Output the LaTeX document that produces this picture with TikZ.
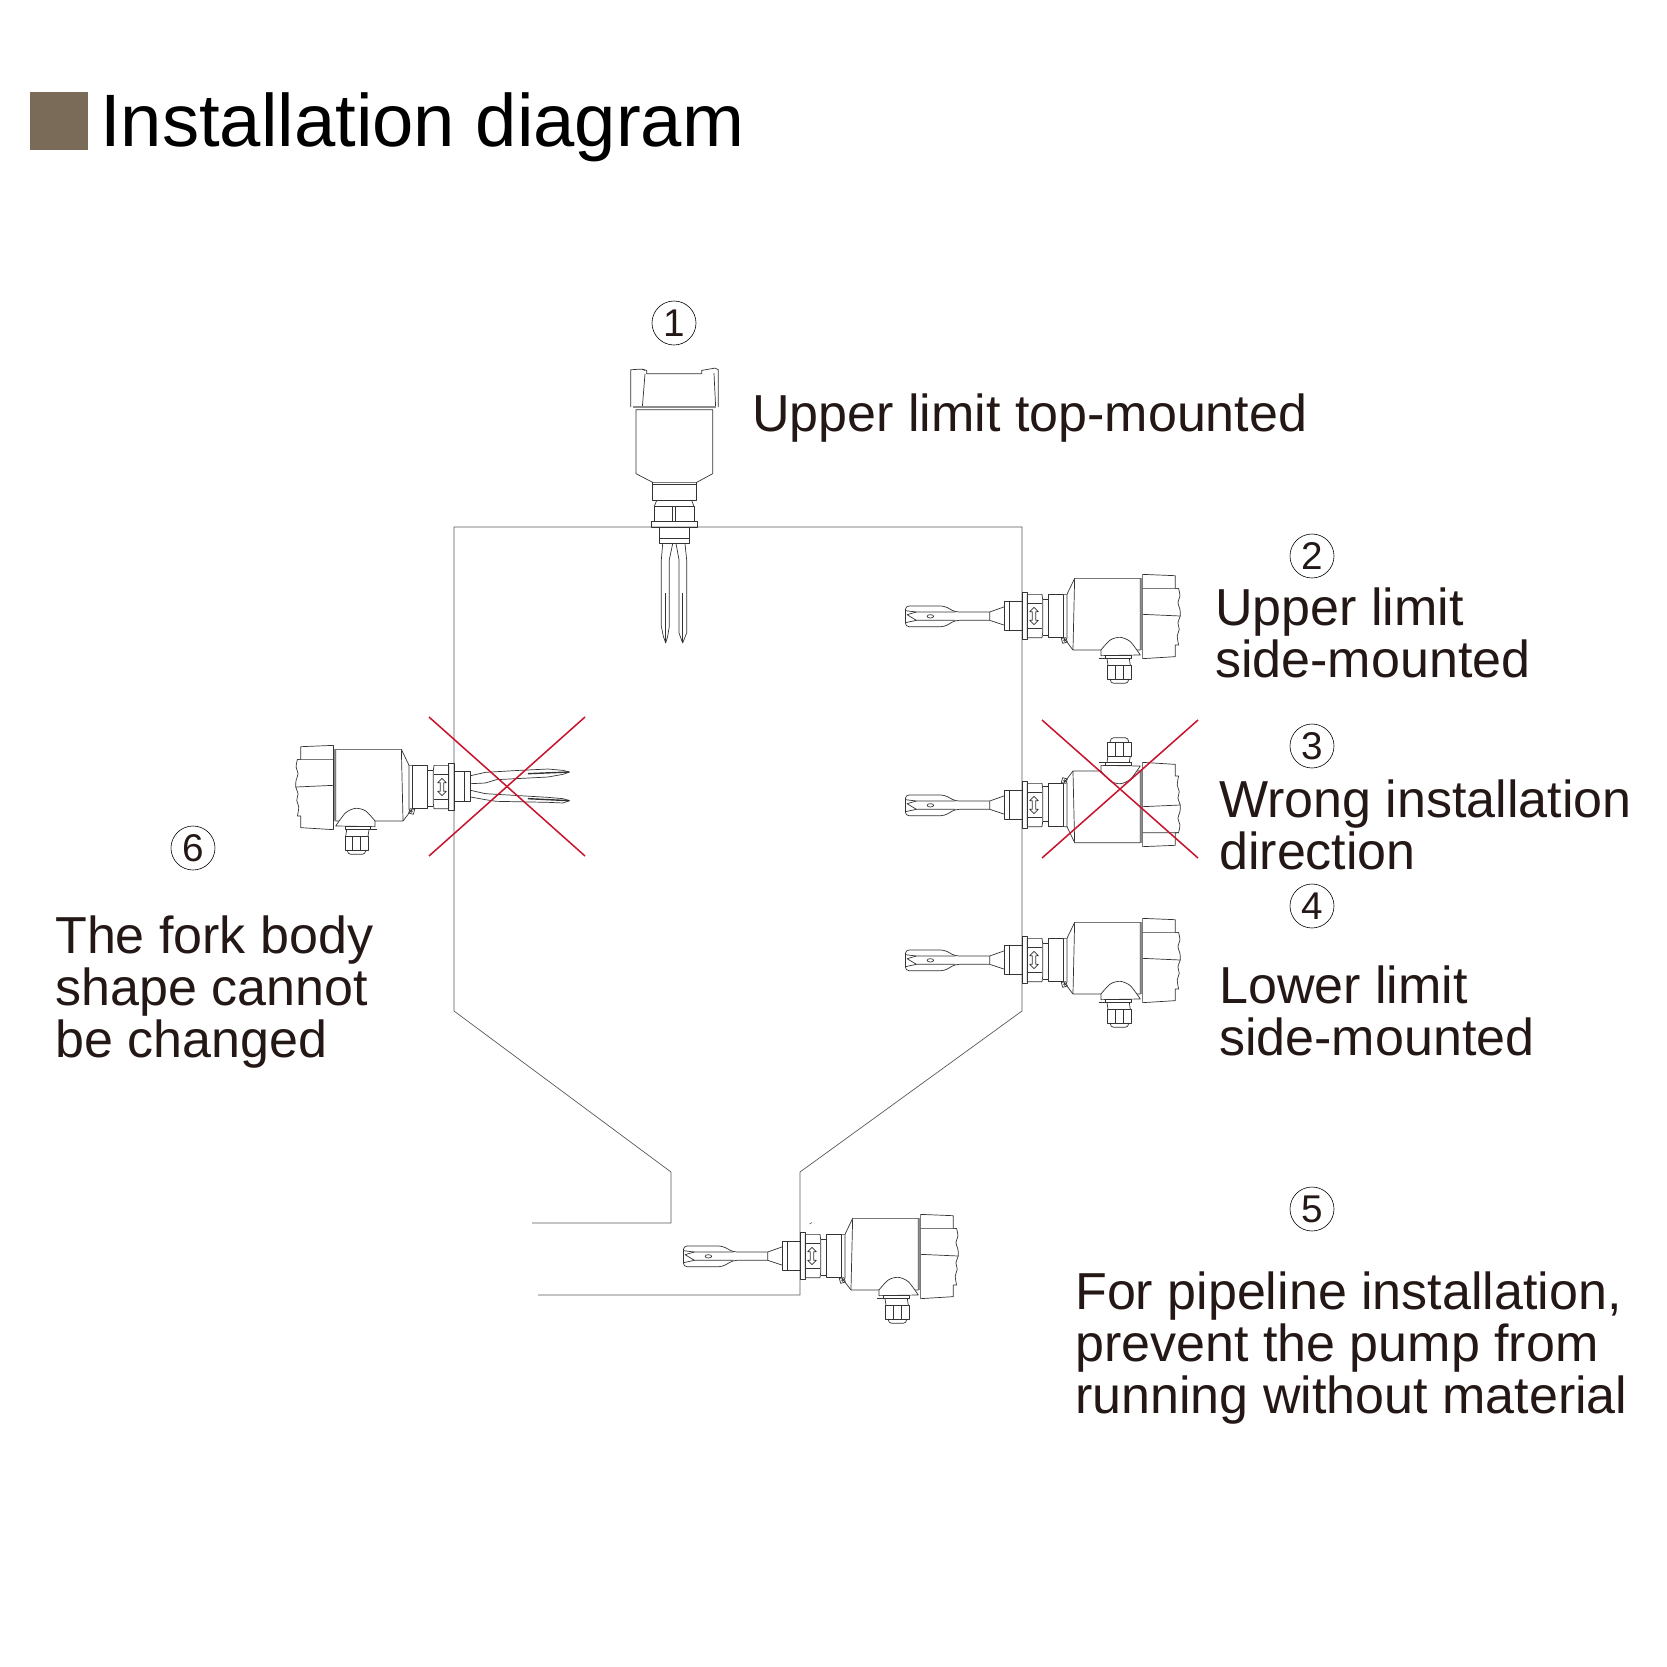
\documentclass[tikz,border=0pt]{standalone}
\usepackage{fontspec}
\setmainfont{Liberation Sans}
\definecolor{inkdark}{HTML}{231815}
\definecolor{squarebrown}{HTML}{7A6B58}
\definecolor{crossred}{HTML}{C8142D}
\tikzset{
  part/.style={draw=black!80,line width=0.6pt,line join=round},
  wall/.style={draw=black!65,line width=0.6pt},
  crossline/.style={draw=crossred,line width=1.3pt},
  numcircle/.style={circle,draw=black,line width=0.5pt,minimum size=1.32cm,inner sep=0pt,text=inkdark,font=\fontsize{33}{33}\selectfont},
  note/.style={anchor=north west,align=left,inner sep=0pt,text=inkdark,font=\fontsize{44.4}{44.4}\selectfont},
  pics/housing/.style={code={
    \begin{scope}[x=0.01cm,y=-0.01cm]
    % flange, nut, collar
    \draw[part] (0,-70) rectangle (16,70);
    \draw[part] (16,-65)--(60,-65)--(62,-50)--(62,50)--(60,65)--(16,65)--cycle;
    \draw[part,line width=0.9pt] (16,-38)--(60,-38) (16,38)--(60,38);
    \draw[part] (36,-26)--(23,-13)--(31,-13)--(31,13)--(23,13)--(36,26)--(49,13)--(41,13)--(41,-13)--(49,-13)--cycle;
    \draw[part] (62,-50)--(80,-50) (62,57)--(80,57);
    \draw[part] (80,-65) rectangle (125,65);
    % body
    \draw[part] (125,-65)--(135,-65)--(158,-113)--(355,-113)--(355,102)--(237,102);
    \draw[part] (125,65)--(153,102)--(237,102);
    \draw[part] (135,-65)--(135,68) (158,-113)--(153,102);
    \draw[part] (118,67)--(132,65)--(136,78)--(122,82)--cycle;
    \draw[part] (128,73) circle (3);
    % cap
    \draw[part,line width=1pt,draw=black!45] (358,-113)--(358,102);
    \draw[part] (362,-125)--(460,-121)--(460,-83)--(470,-83)--plot[smooth] coordinates {(470,-83)(474,-60)(468,-40)(474,-20)(475,0)(468,20)(472,40)(466,60)(470,87)}--(460,87)--(460,122)--(362,128)--cycle;
    \draw[part] (362,-83)--(470,-83) (362,-5)--(475,0);
    % cable gland
    \draw[part,fill=white] (237,119)--(237,102)--plot[smooth] coordinates {(237,102)(265,72)(295,64)(325,77)(355,117)}--cycle;
    \draw[part] (250,119) rectangle (327,127);
    \draw[part] (230,127)--(290,127);
    \draw[part] (255,127)--(258,147) (322,127)--(325,147);
    \draw[part] (257,147) rectangle (327,189);
    \draw[part] (280,147)--(280,189) (305,147)--(305,189);
    \draw[part,rounded corners=3] (265,189)--(265,202)--(320,202)--(320,189);
    \end{scope}}},
  pics/paddle/.style={code={
    \begin{scope}[x=0.01cm,y=-0.01cm]
    \draw[part] (-52,-44) rectangle (0,44);
    \draw[part] (-37,-44)--(-37,44);
    \draw[part] (-52,-28)--(-97,-12)--(-97,13)--(-52,28);
    \draw[part,rounded corners=3] (-97,-12)--(-200,-12)--(-233,-30)--(-350,-30)--(-350,32)--(-233,32)--(-200,13)--(-97,13);
    \draw[part] (-350,-16)--(-317,-12)--(-200,-12) (-350,20)--(-317,13)--(-200,13);
    \draw[part] (-317,-12)--(-345,-4)--(-317,13);
    \draw[part] (-275,1) ellipse (10 and 5);
    \end{scope}}},
  pics/twinfork/.style={code={
    \begin{scope}[x=0.01cm,y=-0.01cm]
    \draw[part] (-50,-46) rectangle (0,43);
    \draw[part] (-32,-46)--(-32,43);
    \draw[part] (-50,-34)--(-94,-44)--(-197,-50)--(-282,-54)--(-327,-50)--(-347,-45)--(-327,-38)--(-282,-30)--(-127,-22)--(-94,-12)--(-50,-10);
    \draw[part] (-50,10)--(-94,20)--(-197,26)--(-282,31)--(-327,35)--(-347,41)--(-327,48)--(-282,46)--(-127,43)--(-94,38)--(-50,30);
    \draw[part,line width=1.2pt] (-222,-40)--(-345,-45) (-222,35)--(-345,41);
    \end{scope}}},
  pics/topunit/.style={code={
    \begin{scope}[x=0.01cm,y=-0.01cm]
    % cap
    \draw[part] (-130,-360)--(-130,-472)--(-97,-474)--(-82,-470)--(-82,-460);
    \draw[part] (83,-460)--(83,-470)--(123,-477)--(133,-472)--(133,-360);
    \draw[part] (-82,-460)--(83,-460) (-87,-460)--(-95,-360) (-87,-470)--(-97,-474) (120,-462)--(125,-360);
    \draw[part,line width=1pt,draw=black!45] (-122,-360)--(125,-360);
    % body and collar
    \draw[part] (-114,-352)--(-114,-160)--(-64,-134)--(68,-134)--(116,-160)--(116,-352)--cycle;
    \draw[part] (-65,-134)--(-65,-80)--(68,-80)--(68,-134) (-65,-127)--(68,-127);
    % nut and flange
    \draw[part] (-52,-80)--(-59,-62)--(60,-62)--(53,-80);
    \draw[part] (-59,-62) rectangle (60,-16);
    \draw[part] (-4,-62)--(-4,-16) (4,-62)--(4,-16);
    \draw[part] (-67,-16) rectangle (70,0);
    \draw[part] (-44,0) rectangle (45,50);
    \draw[part] (-44,33)--(45,33);
    % prongs
    \draw[part] (-34,50)--(-38,98)--(-38,298)--(-32,328)--(-25,348)--(-19,328)--(-14,298)--(-14,98)--(-4,50);
    \draw[part] (6,50)--(15,98)--(15,318)--(26,348)--(38,318)--(38,98)--(33,50);
    \draw[part,line width=1.2pt] (-25,198)--(-25,348) (26,198)--(26,348);
    \end{scope}}}
}
\begin{document}
\begin{tikzpicture}[x=0.03cm,y=-0.03cm]
\useasboundingbox (0,0) rectangle (1667,1667);
% heading
\fill[squarebrown] (30,92) rectangle (88,150);
\node[anchor=base west,inner sep=0pt,text=black,font=\fontsize{63.4}{63}\selectfont] (title) at (100,146) {Installation diagram};
% tank and pipe
\draw[wall] (532,1223)--(671,1223)--(671,1172)--(454,1011)--(454,527)--(1022,527)--(1022,1011)--(800,1172)--(800,1295)--(538,1295);
% units
\pic at (674,527) {topunit};
\pic at (1022,616) {housing};
\pic at (1022,616) {paddle};
\pic[yscale=-1] at (1022,805) {housing};
\pic at (1022,805) {paddle};
\pic at (1022,960) {housing};
\pic at (1022,960) {paddle};
\pic at (800,1256) {housing};
\pic at (800,1256) {paddle};
\draw[part,line width=0.4pt] (809.5,1224)--(812,1222.5);
\pic[xscale=-1] at (454,787) {housing};
\pic[xscale=-1] at (454,787) {twinfork};
% wrong ones
\draw[crossline] (429,717)--(585,856) (585,717)--(429,856);
\draw[crossline] (1042,720)--(1198,858) (1198,720)--(1042,858);
% numbers
\node[numcircle] (n1) at (674,323) {1};
\node[numcircle] (n2) at (1312,556) {2};
\node[numcircle] (n3) at (1312,746) {3};
\node[numcircle] (n4) at (1312,906) {4};
\node[numcircle] (n5) at (1312,1209) {5};
\node[numcircle] (n6) at (193,848) {6};
% notes
\node[note] (t1) at (752,393.5) {Upper limit top-mounted};
\node[note] (t2) at (1215,588) {Upper limit\\side-mounted};
\node[note] (t3) at (1219,780) {Wrong installation\\direction};
\node[note] (t4) at (1219,966) {Lower limit\\side-mounted};
\node[note] (t5) at (1075,1272) {For pipeline installation,\\prevent the pump from\\running without material};
\node[note] (t6) at (55,916) {The fork body\\shape cannot\\be changed};
\end{tikzpicture}
\end{document}
